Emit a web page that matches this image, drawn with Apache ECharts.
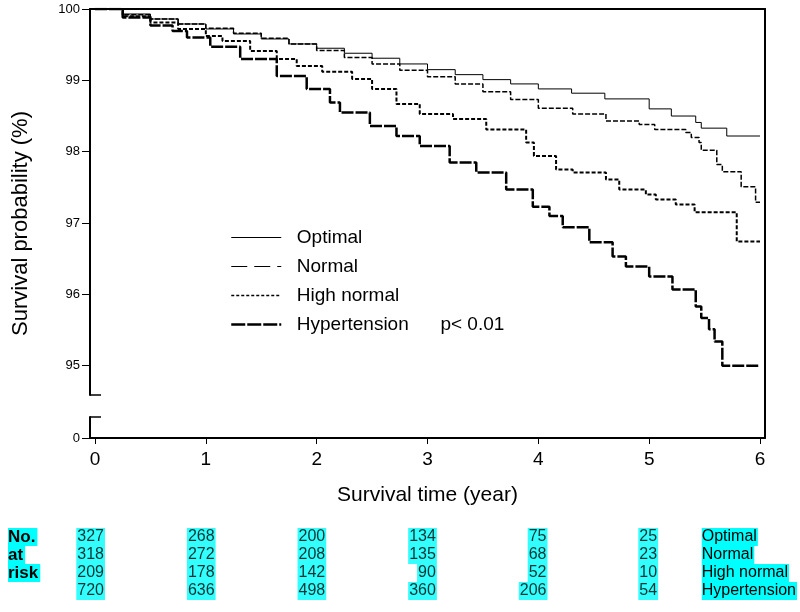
<!DOCTYPE html>
<html>
<head>
<meta charset="utf-8">
<title>Survival by blood pressure group</title>
<script src="https://cdn.jsdelivr.net/npm/echarts@6.0.0/dist/echarts.min.js"></script>
<style>
  html, body { margin: 0; padding: 0; background: #fff; }
  #chart { width: 800px; height: 612px; }
</style>
</head>
<body>
<div id="chart"></div>
<script>
// groups
const groups = ["Optimal", "Normal", "High normal", "Hypertension"];

// Kaplan-Meier curves (time in years, survival in %)
const optimalT = [0, 0.25, 0.5, 0.75, 1.0, 1.25, 1.5, 1.75, 2.0, 2.25, 2.5, 2.75, 3.0, 3.25, 3.5, 3.75, 4.0, 4.3, 4.6, 5.0, 5.2, 5.42, 5.47, 5.7, 6.0];
const optimalS = [100, 99.93, 99.86, 99.79, 99.72, 99.65, 99.58, 99.51, 99.45, 99.38, 99.31, 99.23, 99.15, 99.08, 99.01, 98.95, 98.88, 98.82, 98.74, 98.6, 98.5, 98.41, 98.33, 98.22, 98.22];

const normalT = [0, 0.25, 0.5, 0.75, 1.0, 1.25, 1.5, 1.75, 2.0, 2.25, 2.5, 2.75, 3.0, 3.25, 3.5, 3.75, 4.0, 4.31, 4.61, 4.91, 5.05, 5.33, 5.38, 5.45, 5.47, 5.61, 5.66, 5.83, 5.96, 6.0];
const normalS = [100, 99.92, 99.86, 99.79, 99.73, 99.66, 99.59, 99.51, 99.42, 99.32, 99.23, 99.14, 99.05, 98.95, 98.84, 98.73, 98.61, 98.53, 98.43, 98.38, 98.31, 98.27, 98.2, 98.13, 98.02, 97.82, 97.72, 97.51, 97.29, 97.29];

const highNormalT = [0, 0.25, 0.5, 0.75, 1.0, 1.15, 1.4, 1.64, 1.82, 2.05, 2.32, 2.5, 2.72, 2.93, 3.23, 3.53, 3.89, 3.96, 4.16, 4.31, 4.61, 4.73, 4.97, 5.06, 5.24, 5.41, 5.79, 6.0];
const highNormalS = [100, 99.9, 99.81, 99.72, 99.62, 99.55, 99.41, 99.3, 99.2, 99.12, 99.02, 98.88, 98.67, 98.53, 98.46, 98.31, 98.13, 97.94, 97.75, 97.71, 97.61, 97.47, 97.4, 97.33, 97.26, 97.15, 96.74, 96.74];

const hyperT = [0, 0.25, 0.5, 0.7, 0.83, 1.04, 1.31, 1.64, 1.91, 2.12, 2.21, 2.48, 2.72, 2.93, 3.2, 3.44, 3.71, 3.95, 4.1, 4.22, 4.46, 4.67, 4.79, 5.0, 5.21, 5.42, 5.47, 5.54, 5.59, 5.66, 6.0];
const hyperS = [100, 99.88, 99.77, 99.69, 99.6, 99.47, 99.3, 99.06, 98.88, 98.69, 98.55, 98.36, 98.22, 98.08, 97.85, 97.71, 97.47, 97.23, 97.1, 96.94, 96.73, 96.53, 96.39, 96.25, 96.07, 95.83, 95.67, 95.51, 95.34, 95.0, 95.0];

// ticks
const xTicks = [0, 1, 2, 3, 4, 5, 6];
const yTicksUpper = [95, 96, 97, 98, 99, 100];
const yTicksLower = [0];

// number at risk table
const riskTimes = [0, 1, 2, 3, 4, 5];
const riskOptimal = [327, 268, 200, 134, 75, 25];
const riskNormal = [318, 272, 208, 135, 68, 23];
const riskHighNormal = [209, 178, 142, 90, 52, 10];
const riskHypertension = [720, 636, 498, 360, 206, 54];
const riskRowTitle = ["No.", "at", "risk", ""];

const FONT = "'Liberation Sans', Arial, sans-serif";
const X_MIN = -0.045, X_MAX = 6.045;
const Y_MIN = 94.59;
const LOW_MAX = 0.3;

function zip(t, s) {
  return t.map((v, i) => [v, s[i]]);
}

const riskData = [];
[riskOptimal, riskNormal, riskHighNormal, riskHypertension].forEach((row, r) => {
  row.forEach((n, i) => riskData.push([riskTimes[i], r, n]));
});

const chart = echarts.init(document.getElementById("chart"));

const lineStyles = [
  { color: "#000", width: 1, type: "solid" },
  { color: "#000", width: 1.5, type: [5, 2] },
  { color: "#000", width: 2, type: [4, 2] },
  { color: "#000", width: 2.5, type: [12, 2] },
];
const curves = [zip(optimalT, optimalS), zip(normalT, normalS), zip(highNormalT, highNormalS), zip(hyperT, hyperS)];

const hiddenX = (grid) => ({ gridIndex: grid, type: "value", min: X_MIN, max: X_MAX, show: false });

// plain axis with only a line (or nothing), never jumping to zero
const bareY = (grid, pos, extra) => Object.assign({
  gridIndex: grid,
  type: "value",
  position: pos,
  splitLine: { show: false },
  axisLine: { show: false, onZero: false },
  axisTick: { show: false },
  axisLabel: { show: false },
}, extra);

const option = {
  animation: false,
  backgroundColor: "#fff",
  textStyle: { fontFamily: FONT, color: "#000" },
  grid: [
    { left: 90, right: 35, top: 9, height: 386 },   // upper part 94.6 - 100
    { left: 90, right: 35, top: 417, height: 21 },  // stub under the break, 0
    { left: 90, right: 35, top: 9, height: 429 },   // frame
    { left: 90, right: 35, top: 528, height: 72 },  // number at risk
  ],
  legend: {
    orient: "vertical",
    left: 230,
    top: 228,
    padding: 0,
    itemWidth: 50,
    itemHeight: 14,
    itemGap: 10,
    itemStyle: { opacity: 0 },
    textStyle: { fontSize: 19, color: "#000", fontFamily: FONT },
    formatter: (name) => "  " + (name === "Hypertension" ? name + "      p< 0.01" : name),
    data: [
      { name: "Optimal", lineStyle: { width: 1, type: "solid", opacity: 1 } },
      { name: "Normal", lineStyle: { width: 1.2, type: [16, 7], opacity: 1 } },
      { name: "High normal", lineStyle: { width: 1.5, type: [3, 2], opacity: 1 } },
      { name: "Hypertension", lineStyle: { width: 2.5, type: [14, 2], opacity: 1 } },
    ],
  },
  xAxis: [
    hiddenX(0),
    hiddenX(1),
    {
      gridIndex: 2,
      type: "value",
      position: "bottom",
      min: X_MIN,
      max: X_MAX,
      splitLine: { show: false },
      axisLine: { onZero: false, lineStyle: { color: "#000", width: 2 } },
      axisTick: { customValues: xTicks, length: 6, lineStyle: { color: "#000" } },
      axisLabel: { customValues: xTicks, fontSize: 19, margin: 12, color: "#000" },
      name: "Survival time (year)",
      nameLocation: "middle",
      nameGap: 47,
      nameTextStyle: { fontSize: 21, color: "#000" },
    },
    {
      gridIndex: 2,
      type: "value",
      position: "top",
      min: X_MIN,
      max: X_MAX,
      splitLine: { show: false },
      axisLine: { onZero: false, lineStyle: { color: "#000", width: 2 } },
      axisTick: { show: false },
      axisLabel: { show: false },
    },
    hiddenX(3),
  ],
  yAxis: [
    bareY(0, "left", {
      min: Y_MIN,
      max: 100,
      axisLine: { show: true, onZero: false, lineStyle: { color: "#000", width: 2 } },
      axisTick: { show: true, customValues: yTicksUpper, length: 8, lineStyle: { color: "#000" } },
      axisLabel: { show: true, customValues: yTicksUpper, fontSize: 13, margin: 10, color: "#000" },
    }),
    // break mark at the bottom of the upper part
    bareY(0, "left", {
      min: Y_MIN,
      max: 100,
      axisTick: { show: true, inside: true, customValues: [Y_MIN + 0.003], length: 11, lineStyle: { color: "#000", width: 1.5 } },
    }),
    bareY(1, "left", {
      min: 0,
      max: LOW_MAX,
      axisLine: { show: true, onZero: false, lineStyle: { color: "#000", width: 2 } },
      axisTick: { show: true, customValues: yTicksLower, length: 8, lineStyle: { color: "#000" } },
      axisLabel: { show: true, customValues: yTicksLower, fontSize: 13, margin: 10, color: "#000" },
    }),
    // break mark at the top of the stub
    bareY(1, "left", {
      min: 0,
      max: LOW_MAX,
      axisTick: { show: true, inside: true, customValues: [LOW_MAX - 0.003], length: 11, lineStyle: { color: "#000", width: 1.5 } },
    }),
    bareY(2, "right", {
      axisLine: { show: true, onZero: false, lineStyle: { color: "#000", width: 2 } },
    }),
    bareY(2, "left", {
      name: "Survival probability (%)",
      nameLocation: "middle",
      nameGap: 58,
      nameTextStyle: { fontSize: 22, color: "#000" },
    }),
    {
      gridIndex: 3,
      type: "category",
      position: "left",
      inverse: true,
      data: riskRowTitle,
      axisLine: { show: false, onZero: false },
      axisTick: { show: false },
      axisLabel: {
        interval: (i) => i < 3,
        align: "left",
        margin: 82,
        fontSize: 17,
        fontWeight: "bold",
        color: "#000",
        backgroundColor: "#00ffff",
        padding: [1, 2, 1, 0],
        lineHeight: 16,
      },
    },
    {
      gridIndex: 3,
      type: "category",
      position: "right",
      inverse: true,
      data: groups,
      axisLine: { show: false, onZero: false },
      axisTick: { show: false },
      axisLabel: {
        interval: 0,
        align: "left",
        margin: -62,
        fontSize: 16,
        color: "#000",
        backgroundColor: "#00ffff",
        padding: [1, 1, 1, 0],
        lineHeight: 16,
      },
    },
  ],
  series: [
    ...groups.map((g, i) => ({
      name: g,
      type: "line",
      step: "end",
      xAxisIndex: 0,
      yAxisIndex: 0,
      symbol: "none",
      data: curves[i],
      lineStyle: lineStyles[i],
      itemStyle: { color: "#000" },
    })),
    {
      name: "at risk",
      type: "scatter",
      xAxisIndex: 4,
      yAxisIndex: 6,
      symbolSize: 0,
      data: riskData,
      label: {
        show: true,
        position: "inside",
        align: "right",
        offset: [10, 0],
        formatter: (p) => String(p.value[2]),
        fontSize: 16,
        color: "#000",
        backgroundColor: "#00ffff",
        padding: [1, 1, 1, 1],
        lineHeight: 16,
      },
    },
  ],
};

chart.setOption(option);
</script>
</body>
</html>
